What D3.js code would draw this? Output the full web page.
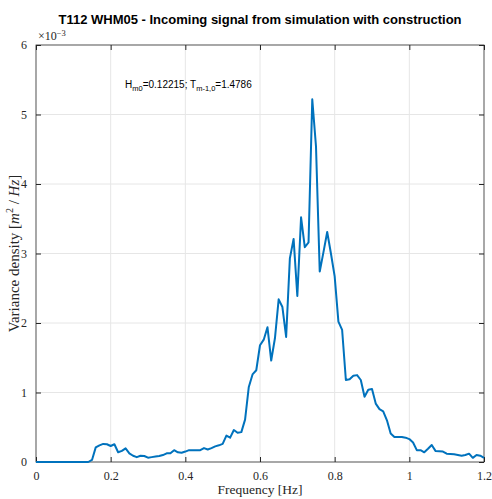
<!DOCTYPE html>
<html><head><meta charset="utf-8">
<script src="https://cdn.jsdelivr.net/npm/d3@7"></script>
<style>body{margin:0;background:#fff}svg{display:block}</style>
</head><body>
<svg id="c" width="492" height="499"></svg>
<script>
const freq = d3.range(0, 121).map(i => +(i * 0.01).toFixed(2));
const density = [
0,0,0,0,0,0,0,0,0,0,
0,0,0,0,0,0.03,0.21,0.24,0.26,0.255,
0.23,0.255,0.14,0.16,0.197,0.125,0.09,0.07,0.09,0.086,
0.062,0.07,0.078,0.086,0.10,0.125,0.125,0.17,0.14,0.134,
0.15,0.17,0.168,0.168,0.17,0.2,0.18,0.2,0.225,0.24,
0.26,0.38,0.35,0.46,0.42,0.43,0.61,1.08,1.26,1.32,
1.68,1.76,1.94,1.46,1.78,2.34,2.23,1.80,2.93,3.21,
2.39,3.52,3.09,3.16,5.22,4.54,2.74,3.02,3.31,3.0,
2.67,2.02,1.90,1.18,1.19,1.24,1.25,1.18,0.94,1.04,
1.05,0.84,0.76,0.73,0.60,0.41,0.36,0.36,0.36,0.35,
0.33,0.28,0.17,0.17,0.14,0.19,0.245,0.16,0.155,0.15,
0.12,0.115,0.11,0.10,0.09,0.10,0.12,0.06,0.10,0.09,
0.06];
const xTicks = [0, 0.2, 0.4, 0.6, 0.8, 1, 1.2];
const yTicks = [0, 1, 2, 3, 4, 5, 6];
const titleText = "T112 WHM05 - Incoming signal from simulation with construction";

const svg = d3.select("#c");
const L = 36, R = 484, T = 45, B = 462;
const x = d3.scaleLinear().domain([0, 1.2]).range([L, R]);
const y = d3.scaleLinear().domain([0, 6]).range([B, T]);
const axisCol = "#262626";
const serif = "'Liberation Serif','DejaVu Serif',serif";
const sans = "'Liberation Sans',Arial,sans-serif";

// grid
const g = svg.append("g");
g.selectAll(".gx").data(xTicks.slice(1, -1)).join("line")
  .attr("x1", d => x(d)).attr("x2", d => x(d)).attr("y1", T).attr("y2", B)
  .attr("stroke", "#e6e6e6").attr("stroke-width", 1);
g.selectAll(".gy").data(yTicks.slice(1, -1)).join("line")
  .attr("y1", d => y(d)).attr("y2", d => y(d)).attr("x1", L).attr("x2", R)
  .attr("stroke", "#e6e6e6").attr("stroke-width", 1);

// axes
function styleAxis(sel) {
  sel.select(".domain").remove();
  sel.selectAll(".tick line").attr("stroke", axisCol);
  sel.selectAll(".tick text").attr("fill", axisCol).attr("font-family", serif).attr("font-size", 12);
}
const fmt = d => d3.format("~g")(d);
svg.append("g").attr("transform", `translate(0,${B})`)
  .call(d3.axisBottom(x).tickValues(xTicks).tickSize(-5).tickPadding(9).tickFormat(fmt)).call(styleAxis);
svg.append("g").attr("transform", `translate(0,${T})`)
  .call(d3.axisTop(x).tickValues(xTicks).tickSize(-5).tickFormat("")).call(styleAxis);
svg.append("g").attr("transform", `translate(${L},0)`)
  .call(d3.axisLeft(y).tickValues(yTicks).tickSize(-5).tickPadding(9).tickFormat(fmt)).call(styleAxis);
svg.append("g").attr("transform", `translate(${R},0)`)
  .call(d3.axisRight(y).tickValues(yTicks).tickSize(-5).tickFormat("")).call(styleAxis);
svg.append("rect").attr("x", L).attr("y", T).attr("width", R - L).attr("height", B - T)
  .attr("fill", "none").attr("stroke", axisCol).attr("stroke-width", 0.8);

// line
const line = d3.line().x((d, i) => x(freq[i])).y(d => y(d));
svg.append("path").datum(density).attr("d", line)
  .attr("fill", "none").attr("stroke", "#0072BD").attr("stroke-width", 2).attr("stroke-linejoin", "round");

// exponent
const ex = svg.append("text").attr("x", 38).attr("y", 40).attr("font-family", serif).attr("font-size", 12).attr("fill", axisCol);
ex.append("tspan").text("×10");
ex.append("tspan").attr("dy", -4).attr("font-size", 8.5).text("−3");

// title
svg.append("text").attr("x", 260).attr("y", 24).attr("text-anchor", "middle")
  .attr("font-family", sans).attr("font-weight", "bold").attr("font-size", 13).attr("fill", "#000").text(titleText);

// x label
svg.append("text").attr("x", 260).attr("y", 494).attr("text-anchor", "middle")
  .attr("font-family", serif).attr("font-size", 13.5).attr("fill", axisCol).text("Frequency [Hz]");

// y label
const yl = svg.append("text").attr("transform", `translate(19,${(T + B) / 2}) rotate(-90)`).attr("text-anchor", "middle")
  .attr("font-family", serif).attr("font-size", 15).attr("fill", axisCol);
yl.append("tspan").text("Variance density [");
yl.append("tspan").attr("font-style", "italic").text("m");
yl.append("tspan").attr("dy", -6).attr("font-size", 10).text("2");
yl.append("tspan").attr("dy", 6).text(" / ");
yl.append("tspan").attr("font-style", "italic").text("Hz");
yl.append("tspan").text("]");

// annotation
const an = svg.append("text").attr("x", 125).attr("y", 88).attr("font-family", sans).attr("font-size", 10).attr("fill", "#000");
an.append("tspan").text("H");
an.append("tspan").attr("dy", 3).attr("font-size", 7.5).text("m0");
an.append("tspan").attr("dy", -3).text("=0.12215; T");
an.append("tspan").attr("dy", 3).attr("font-size", 7.5).text("m-1,0");
an.append("tspan").attr("dy", -3).text("=1.4786");
</script>
</body></html>
